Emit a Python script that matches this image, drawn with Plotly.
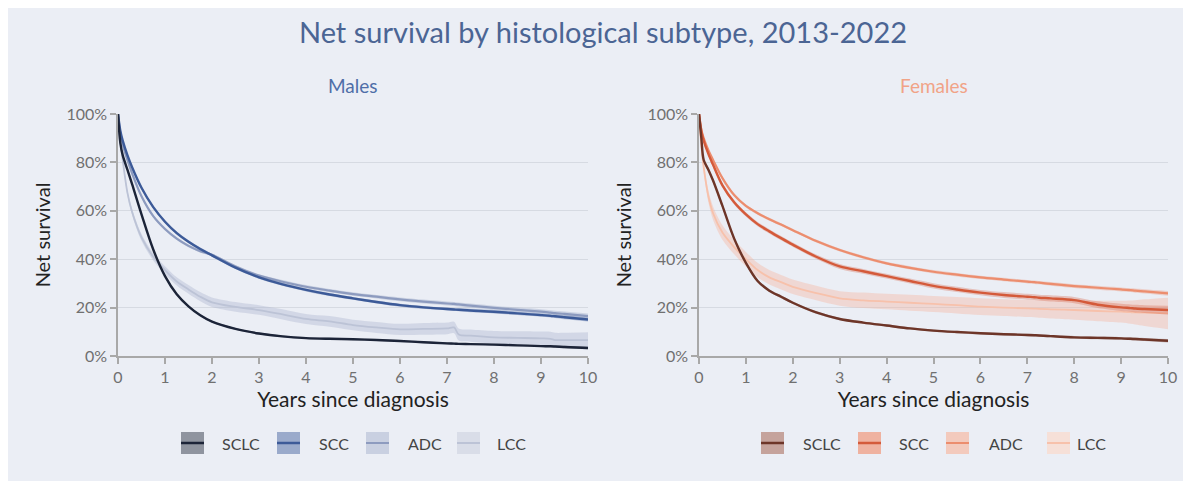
import plotly.graph_objects as go

# ---------------- data ----------------
YEARS = [0, 0.05, 0.1, 0.2, 0.3, 0.5, 0.75, 1, 1.25, 1.5, 1.75, 2, 2.5, 3, 3.5, 4, 4.5,
         5, 5.5, 6, 6.5, 7, 7.15, 7.25, 7.5, 8, 8.5, 9, 9.2, 9.3, 9.5, 10]

SUBTYPES = ["SCLC", "SCC", "ADC", "LCC"]

M_SCLC = [100, 88, 83, 77, 71, 58.5, 44, 33, 25.5, 20.5, 16.8, 14.2, 11.2, 9.3, 8.1, 7.4, 7.1,
          6.9, 6.6, 6.2, 5.7, 5.2, 5.1, 5.0, 4.9, 4.7, 4.4, 4.1, 4.0, 3.9, 3.7, 3.3]
M_SCC = [100, 93, 89, 83, 78, 69.5, 61.5, 55.5, 50.8, 47.2, 44.2, 41.6, 36.5, 32.5, 29.6, 27.3, 25.4,
         23.8, 22.3, 21, 20.1, 19.4, 19.2, 19.1, 18.8, 18.3, 17.6, 16.9, 16.6, 16.4, 16.0, 15.1]
M_ADC = [100, 92, 87.5, 81, 75.5, 66, 57.8, 52.5, 48.5, 45.5, 43.3, 41.8, 37, 33.2, 30.7, 28.6, 27,
         25.6, 24.5, 23.4, 22.5, 21.7, 21.5, 21.3, 20.8, 19.9, 19.1, 18.3, 17.9, 17.7, 17.4, 16.5]
M_LCC = [100, 89, 81, 67.5, 59.5, 49, 41, 35.5, 30.8, 27.5, 24.5, 22.2, 20.3, 19, 17.2, 15.3, 14.3,
         12.8, 11.8, 11, 11.2, 11.4, 11.8, 8.9, 8.4, 7.7, 7.5, 7.3, 7.1, 6.6, 6.6, 6.6]

F_SCLC = [100, 90, 81, 77, 72.5, 62, 48.5, 38.5, 31, 27, 24.5, 22, 18, 15.3, 13.8, 12.6, 11.4,
          10.5, 9.9, 9.4, 9.0, 8.7, 8.6, 8.5, 8.2, 7.7, 7.5, 7.3, 7.1, 7.0, 6.8, 6.3]
F_SCC = [100, 93, 89, 83.5, 79, 70.5, 63.5, 58.5, 54.5, 51.5, 48.7, 46, 41, 37, 35, 33, 31,
         29, 27.5, 26.2, 25.2, 24.5, 24.3, 24.1, 23.8, 23.1, 21.2, 20.1, 19.8, 19.6, 19.4, 19]
F_ADC = [100, 93.5, 90, 85, 81, 73.5, 66.5, 62, 59, 56.5, 54.3, 52, 47.5, 43.8, 40.8, 38.3, 36.4,
         34.8, 33.6, 32.5, 31.6, 30.7, 30.5, 30.3, 29.8, 28.9, 28.2, 27.5, 27.2, 27, 26.7, 25.9]
F_LCC = [100, 87, 78, 66, 59, 51, 45, 40, 35.5, 32.5, 30.5, 28.6, 26, 23.8, 23, 22.5, 22,
         21.5, 21, 20.4, 20, 19.7, 19.6, 19.5, 19.3, 19, 18.6, 18.3, 18.1, 18, 17.9, 17.6]

# half-widths of the confidence bands (percentage points)
M_SCLC_CI = [0, 0.6, 0.7, 0.8, 0.8, 0.8, 0.7, 0.6, 0.5, 0.5, 0.4, 0.4, 0.4, 0.4, 0.4, 0.4, 0.4,
             0.4, 0.4, 0.4, 0.4, 0.4, 0.4, 0.4, 0.4, 0.4, 0.4, 0.4, 0.4, 0.4, 0.5, 0.5]
M_SCC_CI = [0, 0.5, 0.6, 0.6, 0.6, 0.6, 0.6, 0.6, 0.6, 0.6, 0.6, 0.6, 0.6, 0.6, 0.6, 0.6, 0.6,
            0.6, 0.6, 0.6, 0.6, 0.6, 0.6, 0.6, 0.7, 0.7, 0.7, 0.7, 0.7, 0.7, 0.8, 0.8]
M_ADC_CI = [0, 0.5, 0.6, 0.6, 0.6, 0.6, 0.6, 0.6, 0.6, 0.6, 0.6, 0.6, 0.6, 0.6, 0.7, 0.7, 0.7,
            0.7, 0.7, 0.8, 0.8, 0.8, 0.8, 0.8, 0.9, 0.9, 0.9, 1.0, 1.0, 1.0, 1.0, 1.1]
M_LCC_CI = [0, 0.5, 0.8, 1.0, 1.2, 1.4, 1.5, 1.6, 1.7, 1.8, 1.9, 2, 2, 2, 2.1, 2.1, 2.2,
            2.2, 2.3, 2.3, 2.4, 2.4, 2.4, 2.5, 2.5, 2.6, 2.7, 2.8, 2.9, 3.0, 3.0, 3.2]
F_SCLC_CI = [0, 0.7, 0.8, 0.9, 0.9, 0.9, 0.8, 0.7, 0.6, 0.6, 0.6, 0.5, 0.5, 0.5, 0.5, 0.5, 0.5,
             0.5, 0.5, 0.5, 0.5, 0.5, 0.5, 0.5, 0.5, 0.6, 0.6, 0.6, 0.6, 0.6, 0.6, 0.7]
F_SCC_CI = [0, 0.7, 0.8, 0.9, 0.9, 0.9, 0.9, 0.9, 0.9, 0.9, 0.9, 0.9, 0.9, 1.0, 1.0, 1.0, 1.0,
            1.1, 1.1, 1.1, 1.2, 1.2, 1.2, 1.2, 1.3, 1.3, 1.4, 1.5, 1.5, 1.6, 1.6, 1.8]
F_ADC_CI = [0, 0.6, 0.6, 0.6, 0.6, 0.6, 0.6, 0.6, 0.6, 0.6, 0.6, 0.6, 0.6, 0.6, 0.6, 0.6, 0.7,
            0.7, 0.7, 0.7, 0.7, 0.7, 0.7, 0.7, 0.8, 0.8, 0.8, 0.8, 0.8, 0.9, 0.9, 1.0]
F_LCC_CI = [0, 1.5, 2, 2.5, 2.8, 3, 3, 3, 3, 3, 3, 3, 3, 3, 3.2, 3.2, 3.3,
            3.3, 3.4, 3.5, 3.5, 3.6, 3.6, 3.7, 3.8, 4, 4.2, 4.5, 4.8, 5, 5.5, 6.5]

# ---------------- styling ----------------
PAGE_OFF = 8                      # the html body adds an 8px margin
W, H = 1191 - PAGE_OFF, 481 - PAGE_OFF
ML, MR, MT, MB = 118 - PAGE_OFF, 23, 114 - PAGE_OFF, 125
PW, PH = W - ML - MR, H - MT - MB


def px(x):   # reference screen pixel -> paper fraction
    return (x - PAGE_OFF - ML) / PW


def py(y):
    return (H - MB - (y - PAGE_OFF)) / PH


BG = "#ebeef5"
FONT = "Lato"

M_LINE = ["#1c2438", "#3c5a98", "#8d9bbf", "#bcc3d6"]
M_BAND = ["rgba(28,36,56,0.30)", "rgba(60,90,152,0.30)", "rgba(141,155,191,0.32)", "rgba(170,180,205,0.38)"]
M_SWATCH = ["#8f949f", "#9aaacb", "#c9d0e1", "#d9dde8"]
F_LINE = ["#6d3528", "#d45a3a", "#ec8d6e", "#f7c1ab"]
F_BAND = ["rgba(109,53,40,0.30)", "rgba(212,90,58,0.30)", "rgba(236,141,110,0.32)", "rgba(247,180,155,0.38)"]
F_SWATCH = ["#c5a39c", "#efb2a0", "#f3cabd", "#f6e0d8"]
WIDTHS = [2.4, 2.4, 2.2, 1.8]
SMOOTH = 0.9

males = [M_SCLC, M_SCC, M_ADC, M_LCC]
males_ci = [M_SCLC_CI, M_SCC_CI, M_ADC_CI, M_LCC_CI]
females = [F_SCLC, F_SCC, F_ADC, F_LCC]
females_ci = [F_SCLC_CI, F_SCC_CI, F_ADC_CI, F_LCC_CI]

fig = go.Figure()

panels = [
    (males, males_ci, M_LINE, M_BAND, "x", "y", "Males"),
    (females, females_ci, F_LINE, F_BAND, "x2", "y2", "Females"),
]
for series, cis, lcols, bcols, xa, ya, sex in panels:
    for i in [3, 2, 1, 0]:
        vals, ci = series[i], cis[i]
        lo = [max(v - c, 0) for v, c in zip(vals, ci)]
        hi = [min(v + c, 100) for v, c in zip(vals, ci)]
        fig.add_trace(go.Scatter(x=YEARS, y=lo, mode="lines",
                                 line=dict(width=0, shape="spline", smoothing=SMOOTH),
                                 hoverinfo="skip", showlegend=False, xaxis=xa, yaxis=ya))
        fig.add_trace(go.Scatter(x=YEARS, y=hi, mode="lines",
                                 line=dict(width=0, shape="spline", smoothing=SMOOTH),
                                 fill="tonexty", fillcolor=bcols[i], hoverinfo="skip",
                                 showlegend=False, xaxis=xa, yaxis=ya))
        fig.add_trace(go.Scatter(x=YEARS, y=vals, mode="lines", name=f"{sex} {SUBTYPES[i]}",
                                 line=dict(color=lcols[i], width=WIDTHS[i], shape="spline", smoothing=SMOOTH),
                                 showlegend=False, xaxis=xa, yaxis=ya))

axis_common = dict(
    showline=True, linecolor="#a8a8a8", linewidth=1.5,
    ticks="outside", ticklen=6, tickwidth=1.5, tickcolor="#a8a8a8",
    tickfont=dict(family=FONT, size=16, color="#707070"),
    zeroline=False,
)
x_common = dict(axis_common, range=[0, 10], dtick=1, tick0=0, showgrid=False,
                title=dict(text="Years since diagnosis", font=dict(family=FONT, size=21, color="#222222"),
                           standoff=6))
y_common = dict(axis_common, range=[0, 100], dtick=20, tick0=0, ticksuffix="%", showgrid=True,
                gridcolor="#d6dae2", gridwidth=1,
                title=dict(text="Net survival", font=dict(family=FONT, size=20, color="#222222"),
                           standoff=10))

fig.update_layout(
    width=W, height=H,
    margin=dict(l=ML, r=MR, t=MT, b=MB, autoexpand=False),
    paper_bgcolor=BG, plot_bgcolor=BG,
    font=dict(family=FONT),
    showlegend=False,
    title=dict(text="Net survival by histological subtype, 2013-2022", x=(603 - PAGE_OFF) / W,
               xref="container", xanchor="center", y=1 - (33 - PAGE_OFF) / H, yref="container",
               yanchor="middle", font=dict(family=FONT, size=29, color="#4b6594")),
    xaxis=dict(x_common, domain=[0, px(588)], anchor="y"),
    yaxis=dict(y_common, domain=[0, 1], anchor="x"),
    xaxis2=dict(x_common, domain=[px(699), 1], anchor="y2"),
    yaxis2=dict(y_common, domain=[0, 1], anchor="x2"),
)

shapes = []
annotations = [
    dict(text="Males", x=px(353), y=py(86), xref="paper", yref="paper", showarrow=False,
         xanchor="center", yanchor="middle", font=dict(family=FONT, size=19, color="#4f6ea8")),
    dict(text="Females", x=px(934), y=py(86), xref="paper", yref="paper", showarrow=False,
         xanchor="center", yanchor="middle", font=dict(family=FONT, size=19, color="#f1a387")),
]

# legends (swatch + line + label) for each panel
LEG_Y = 443
leg_sets = [
    ([181, 277, 366, 457], [220, 317, 406, 495], M_SWATCH, M_LINE),
    ([761, 858, 946, 1047], [801, 897, 987, 1075], F_SWATCH, F_LINE),
]
for sw_x, tx_x, swc, lnc in leg_sets:
    for i in range(4):
        shapes.append(dict(type="rect", xref="paper", yref="paper",
                           x0=px(sw_x[i]), x1=px(sw_x[i] + 23), y0=py(LEG_Y + 11), y1=py(LEG_Y - 11),
                           fillcolor=swc[i], line=dict(width=0)))
        shapes.append(dict(type="line", xref="paper", yref="paper",
                           x0=px(sw_x[i]), x1=px(sw_x[i] + 23), y0=py(LEG_Y), y1=py(LEG_Y),
                           line=dict(color=lnc[i], width=2.5 if i < 2 else 2)))
        annotations.append(dict(text=SUBTYPES[i], x=px(tx_x[i]), y=py(LEG_Y), xref="paper", yref="paper",
                                showarrow=False, xanchor="left", yanchor="middle",
                                font=dict(family=FONT, size=16, color="#444444")))

fig.update_layout(shapes=shapes, annotations=annotations)
fig.write_html("out.html")
